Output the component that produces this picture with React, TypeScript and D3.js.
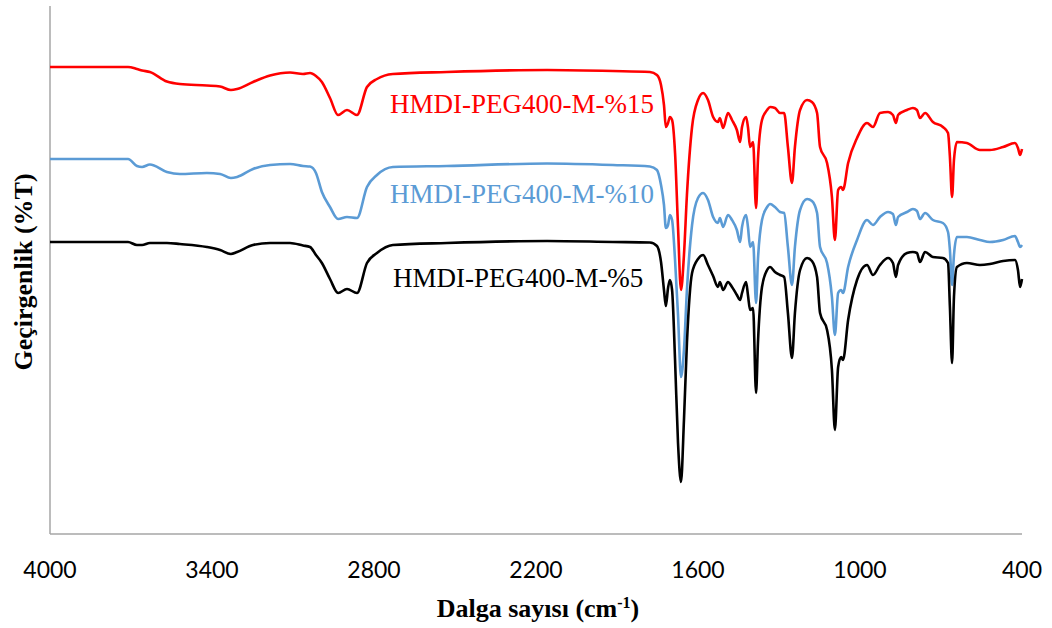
import React from 'react';
import * as d3 from 'd3';

const wavenumbers = [4000,3711,3678,3659,3630,3567,3519,3419,3370,3330,3307,3248,3185,3111,3063,3037,3015,2993,2963,2933,2900,2863,2826,2789,2730,2530,2159,1915,1778,1752,1737,1726,1719,1711,1704,1696,1685,1674,1663,1652,1641,1622,1600,1581,1563,1544,1526,1519,1507,1489,1474,1456,1444,1437,1422,1415,1407,1396,1385,1378,1363,1344,1333,1315,1296,1281,1267,1252,1241,1222,1196,1178,1159,1148,1122,1104,1093,1081,1070,1063,1044,1011,974,952,926,896,878,867,859,826,804,789,778,759,730,693,674,667,659,652,641,604,556,519,470,426,415,407,400];

const pct15 = [93.0,93.0,92.6,92.3,92.0,90.1,89.6,89.3,89.1,88.4,88.6,90.0,91.3,91.9,91.6,91.8,91.2,90.0,86.8,83.4,84.4,83.4,89.0,90.6,91.6,92.0,92.4,92.2,92.0,91.4,89.4,85.4,81.0,81.8,83.0,82.4,75.8,61.0,48.4,55.4,67.4,81.0,86.4,87.8,86.4,83.0,82.0,82.8,80.8,83.8,82.4,80.4,78.0,81.0,83.0,81.0,77.0,78.0,64.8,74.4,82.4,84.4,85.0,84.8,83.8,83.8,77.0,69.8,77.0,84.4,86.4,86.0,83.8,77.0,73.8,67.0,58.4,68.4,69.0,68.4,73.8,78.8,81.8,81.0,83.8,84.0,83.4,81.8,83.4,84.4,84.8,84.4,82.8,83.8,82.0,81.0,79.8,75.0,67.0,74.4,78.0,77.8,76.4,76.4,77.0,77.8,76.8,75.4,76.6];

const pct10 = [74.6,74.6,73.2,73.0,73.5,72.0,71.6,71.8,71.6,70.8,71.0,72.6,73.4,73.6,73.2,73.1,71.8,68.0,65.0,62.6,63.0,62.8,69.0,71.4,73.0,73.2,73.7,73.4,73.1,72.4,69.4,65.4,60.8,61.4,63.4,62.4,54.4,43.4,31.0,36.4,48.4,61.4,66.8,67.8,66.4,63.0,61.8,62.8,61.0,63.4,62.4,60.4,58.0,61.0,63.4,61.0,57.0,58.0,45.8,54.4,62.4,65.0,65.6,65.0,64.0,63.8,57.0,49.4,57.0,64.4,66.6,66.2,63.8,57.0,53.8,47.0,39.4,47.8,48.4,47.8,53.0,58.4,62.4,61.4,63.0,64.0,63.6,61.4,63.0,64.0,64.6,64.2,62.6,63.8,62.4,61.8,60.0,56.4,49.4,55.4,59.0,59.0,58.4,58.0,58.4,59.2,58.0,57.0,57.4];

const pct5 = [58.0,58.0,57.4,57.4,57.8,57.8,57.6,57.0,56.4,55.6,56.0,57.4,57.8,57.8,57.3,57.0,55.4,53.8,50.6,47.8,48.6,47.8,53.8,55.8,57.4,57.8,58.2,58.0,57.9,57.2,54.0,48.4,45.2,48.8,50.4,48.4,34.4,17.8,10.0,22.4,37.8,51.8,54.6,55.4,53.4,51.2,49.0,50.0,48.4,50.0,49.0,47.4,46.4,47.8,50.0,47.4,44.4,44.8,27.8,37.8,49.0,52.4,53.0,52.0,51.4,51.0,43.8,34.8,43.8,52.4,54.8,54.2,51.0,43.8,40.4,32.4,20.4,33.0,35.0,34.4,42.4,50.4,53.4,51.4,53.4,54.8,53.8,51.0,53.4,55.8,56.0,55.8,54.0,56.0,55.0,54.8,53.8,45.0,33.8,47.0,53.0,53.8,53.4,53.6,54.2,54.4,52.4,49.0,50.6];

const seriesNames = ['HMDI-PEG400-M-%15', 'HMDI-PEG400-M-%10', 'HMDI-PEG400-M-%5'];
const seriesColors = ['#FF0000', '#5B9BD5', '#000000'];
const labelAnchors = [[2741, 83.8], [2741, 65.8], [2730, 49.0]];
const xTicks = [4000, 3400, 2800, 2200, 1600, 1000, 400];

export default function App() {
  const W = 1052, H = 628;
  const left = 50, right = 1022, top = 6, bottom = 534;
  const x = d3.scaleLinear().domain([4000, 400]).range([left, right]);
  const y = d3.scaleLinear().domain([-0.4, 105.2]).range([bottom, top]);
  const series = [pct15, pct10, pct5];
  const line = d3.line<number>()
    .x((_, i) => x(wavenumbers[i]))
    .y((d) => y(d))
    .curve(d3.curveMonotoneX);

  return (
    <svg width={W} height={H} style={{ position: 'absolute', left: 0, top: 0, display: 'block', background: '#fff' }}>
      <rect x={0} y={0} width={W} height={H} fill="#fff" />
      <line x1={left} x2={left} y1={top} y2={bottom} stroke="#A6A6A6" strokeWidth={1.5} />
      <line x1={left} x2={right} y1={bottom} y2={bottom} stroke="#A6A6A6" strokeWidth={1.5} />
      {series.map((s, k) => (
        <path key={k} d={line(s) || ''} fill="none" stroke={seriesColors[k]} strokeWidth={2.6} strokeLinejoin="round" />
      ))}
      {seriesNames.map((n, k) => (
        <text key={n} x={x(labelAnchors[k][0])} y={y(labelAnchors[k][1])} fill={seriesColors[k]}
          fontFamily="'Liberation Serif', 'Times New Roman', serif" fontSize={27}>{n}</text>
      ))}
      {xTicks.map((t) => (
        <text key={t} x={x(t)} y={578} textAnchor="middle" fontFamily="Lato, 'Open Sans', sans-serif" fontSize={23} fill="#000">{t}</text>
      ))}
      <text x={538} y={617} textAnchor="middle" fontFamily="'Liberation Serif', 'Times New Roman', serif" fontWeight="bold" fontSize={26} fill="#000">
        Dalga sayısı (cm<tspan dy={-9} fontSize={16}>-1</tspan><tspan dy={9}>)</tspan>
      </text>
      <text transform="translate(32,272) rotate(-90)" textAnchor="middle" fontFamily="'Liberation Serif', 'Times New Roman', serif" fontWeight="bold" fontSize={26} fill="#000">
        Geçirgenlik (%T)
      </text>
    </svg>
  );
}
